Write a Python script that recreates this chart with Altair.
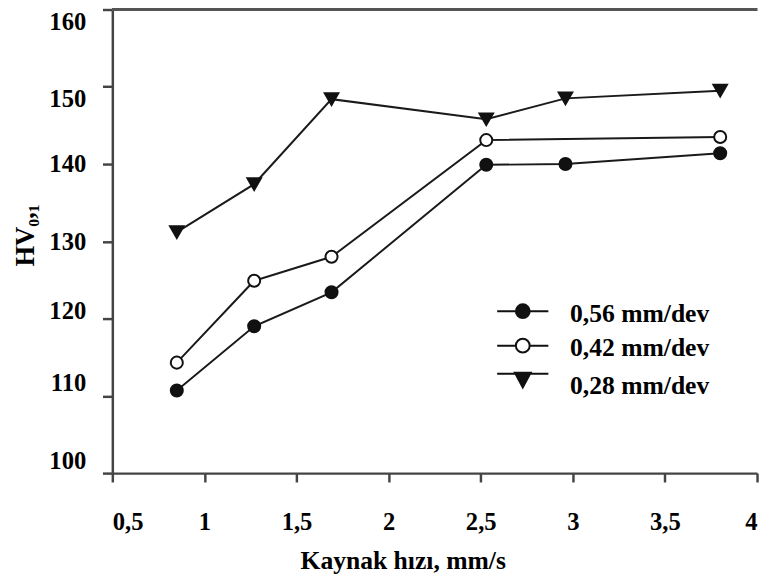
import altair as alt
import pandas as pd

# ---- data ----
series_names = ["0,56 mm/dev", "0,42 mm/dev", "0,28 mm/dev"]

speed_056 = [0.85, 1.27, 1.69, 2.53, 2.96, 3.80]
hv_056 = [110.7, 119.0, 123.4, 139.9, 140.0, 141.4]

speed_042 = [0.85, 1.27, 1.69, 2.53, 3.80]
hv_042 = [114.3, 124.9, 128.0, 143.1, 143.5]

speed_028 = [0.85, 1.27, 1.69, 2.53, 2.96, 3.80]
hv_028 = [131.2, 137.4, 148.4, 145.8, 148.5, 149.5]

x_ticks = [0.5, 1, 1.5, 2, 2.5, 3, 3.5, 4]
y_ticks = [100, 110, 120, 130, 140, 150, 160]

rows = []
for name, xs, ys in [
    (series_names[0], speed_056, hv_056),
    (series_names[1], speed_042, hv_042),
    (series_names[2], speed_028, hv_028),
]:
    for xv, yv in zip(xs, ys):
        rows.append({"series": name, "speed": xv, "hv": yv})
df = pd.DataFrame(rows)

FONT = "Liberation Serif"

x_enc = alt.X(
    "speed:Q",
    scale=alt.Scale(domain=[0.5, 4], nice=False, zero=False),
    axis=alt.Axis(
        values=x_ticks,
        format=".1~f",
        labelExpr="replace(datum.label, '.', ',')",
        labelFlush=True,
        tickSize=9,
        labelPadding=28,
        title="Kaynak hızı, mm/s",
        titleFontSize=26,
        titleX=295,
        titleY=97,
        titleAlign="center",
        titleBaseline="alphabetic",
    ),
)
y_enc = alt.Y(
    "hv:Q",
    scale=alt.Scale(domain=[100, 160], nice=False, zero=False),
    axis=alt.Axis(
        values=y_ticks,
        tickSize=10,
        labelPadding=17,
        labelBaseline={
            "condition": [
                {"test": "datum.value >= 150", "value": "top"},
                {"test": "datum.value <= 110", "value": "bottom"},
                {"test": "datum.value <= 120", "value": "alphabetic"},
            ],
            "value": "middle",
        },
        title="HV₀,₁",
        titleFontSize=27,
        titleAngle=270,
        titleX=-80,
        titleY=229,
        titleAlign="center",
        titleBaseline="alphabetic",
    ),
)

base = alt.Chart(df)

top_frame = alt.Chart(df).mark_rule(color="#555555", strokeWidth=3).encode(
    y=alt.datum(160)
)

lines = base.mark_line(color="#1a1a1a", strokeWidth=2).encode(
    x=x_enc, y=y_enc, detail="series:N", order="speed:Q"
)

# one point layer per series (marker style as mark properties, no shared scales)
marker_shapes = ["circle", "circle", "triangle-down"]
marker_fills = ["#111111", "white", "#111111"]
marker_sizes = [150, 150, 190]

point_layers = []
for name, shp, fil, sz in zip(series_names, marker_shapes, marker_fills, marker_sizes):
    point_layers.append(
        base.transform_filter(alt.datum.series == name)
        .mark_point(shape=shp, fill=fil, size=sz, stroke="#111111", strokeWidth=2, opacity=1, fillOpacity=1)
        .encode(x=x_enc, y=y_enc)
    )

# legend glyphs: a short line with the marker on it (symbol size 400 -> 10 px per unit)
p_circle = (
    "M-2.6,-0.25L-0.7,-0.25M0.7,-0.25L2.6,-0.25"
    "M-0.7,-0.25A0.7,0.7,0,1,0,0.7,-0.25A0.7,0.7,0,1,0,-0.7,-0.25Z"
)
p_tri = "M-2.6,-1.3L2.6,-1.3M-0.8,-1.4L0.8,-1.4L0,0.1Z"

leg = alt.Legend(
    title=None,
    orient="none",
    legendX=404,
    legendY=296,
    labelFont=FONT,
    labelFontWeight="bold",
    labelFontSize=26,
    labelColor="black",
    symbolSize=400,
    symbolStrokeWidth=2,
    labelOffset=35,
    rowPadding=8,
)

legend_layer = (
    base.transform_filter("false")
    .mark_point(strokeWidth=2, opacity=1, size=400)
    .encode(
        x=x_enc,
        y=y_enc,
        shape=alt.Shape(
            "series:N",
            scale=alt.Scale(domain=series_names, range=[p_circle, p_circle, p_tri]),
            legend=leg,
        ),
        fill=alt.Fill(
            "series:N",
            scale=alt.Scale(domain=series_names, range=["#111111", "white", "#111111"]),
            legend=leg,
        ),
        stroke=alt.Stroke(
            "series:N",
            scale=alt.Scale(domain=series_names, range=["#111111", "#111111", "#111111"]),
            legend=leg,
        ),
    )
)

chart = (
    alt.layer(top_frame, lines, *point_layers, legend_layer)
    .properties(
        width=655,
        height=471,
        padding={"left": 4, "top": -5, "right": 0, "bottom": 0},
        background="white",
    )
    .configure_view(stroke=None)
    .configure_axis(
        grid=False,
        domainColor="#444444",
        domainWidth=2.5,
        tickColor="#444444",
        tickWidth=2.5,
        labelFont=FONT,
        labelFontWeight="bold",
        labelFontSize=25,
        labelColor="black",
        titleFont=FONT,
        titleFontWeight="bold",
        titleColor="black",
    )
)

chart.save("out.html", embed_options={"renderer": "svg", "actions": False})
